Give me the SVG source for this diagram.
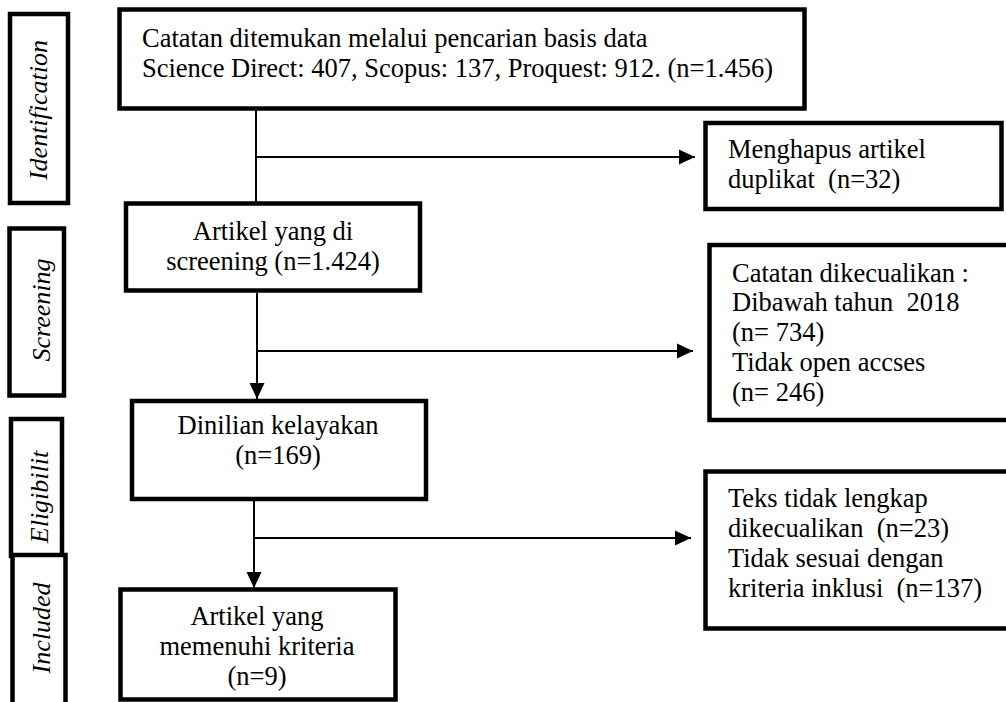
<svg xmlns="http://www.w3.org/2000/svg" width="1006" height="702" viewBox="0 0 1006 702">
<style>
.box{fill:#fff;stroke:#000;stroke-width:4.5}
.t{font-family:"Liberation Serif","Times New Roman",serif;font-size:26.5px;fill:#000}
.c{text-anchor:middle}
.lab{font-family:"Liberation Serif","Times New Roman",serif;font-size:26px;font-style:italic;fill:#000;text-anchor:middle}
.ln{fill:none;stroke:#000;stroke-width:2}
</style>
<defs>
<marker id="ah" markerUnits="userSpaceOnUse" markerWidth="16" markerHeight="16" viewBox="0 0 16 16" refX="16" refY="8" orient="auto">
<path d="M0,0.5 L16,8 L0,15.5 Z" fill="#000"/>
</marker>
</defs>
<rect width="1006" height="702" fill="#fff"/>
<g id="stage-identification">
<rect class="box" x="10" y="14" width="58" height="189"/>
<text class="lab" transform="translate(47,110) rotate(-90)">Identification</text>
</g>
<g id="stage-screening">
<rect class="box" x="9.5" y="228.5" width="54.5" height="167"/>
<text class="lab" transform="translate(50,310) rotate(-90)">Screening</text>
</g>
<g id="stage-eligibility">
<rect class="box" x="11" y="419" width="51" height="137"/>
<text class="lab" transform="translate(48,497) rotate(-90)">Eligibilit</text>
</g>
<g id="stage-included">
<rect class="box" x="12.5" y="555" width="53" height="160"/>
<text class="lab" transform="translate(50,628) rotate(-90)">Included</text>
</g>
<g id="connectors">
<line class="ln" x1="256" y1="110" x2="256" y2="202"/>
<line class="ln" x1="256" y1="157" x2="695" y2="157" marker-end="url(#ah)"/>
<line class="ln" x1="257" y1="293" x2="257" y2="399" marker-end="url(#ah)"/>
<line class="ln" x1="257" y1="351" x2="693" y2="351" marker-end="url(#ah)"/>
<line class="ln" x1="254" y1="501" x2="254" y2="588" marker-end="url(#ah)"/>
<line class="ln" x1="254" y1="538" x2="691" y2="538" marker-end="url(#ah)"/>
</g>
<g id="records">
<rect class="box" x="119.5" y="9.5" width="685" height="99"/>
<text class="t" x="142" y="47">Catatan ditemukan melalui pencarian basis data</text>
<text class="t" x="142" y="77">Science Direct: 407, Scopus: 137, Proquest: 912. (n=1.456)</text>
</g>
<g id="screened">
<rect class="box" x="126" y="203.5" width="294" height="87"/>
<text class="t c" x="273" y="240">Artikel yang di</text>
<text class="t c" x="273" y="270">screening (n=1.424)</text>
</g>
<g id="eligible">
<rect class="box" x="132" y="401" width="294" height="98"/>
<text class="t c" x="278" y="434">Dinilian kelayakan</text>
<text class="t c" x="278" y="464">(n=169)</text>
</g>
<g id="included">
<rect class="box" x="120.5" y="589.5" width="275" height="110"/>
<text class="t c" x="257" y="625">Artikel yang</text>
<text class="t c" x="257" y="655">memenuhi kriteria</text>
<text class="t c" x="257" y="685">(n=9)</text>
</g>
<g id="duplicates">
<rect class="box" x="705.5" y="123" width="296" height="86"/>
<text class="t" x="728" y="158">Menghapus artikel</text>
<text class="t" x="728" y="188" xml:space="preserve">duplikat  (n=32)</text>
</g>
<g id="excluded-screening">
<rect class="box" x="709.5" y="245" width="310" height="175"/>
<text class="t" x="732" y="282">Catatan dikecualikan :</text>
<text class="t" x="732" y="311" xml:space="preserve">Dibawah tahun  2018</text>
<text class="t" x="732" y="341">(n= 734)</text>
<text class="t" x="732" y="371">Tidak open accses</text>
<text class="t" x="732" y="401">(n= 246)</text>
</g>
<g id="excluded-eligibility">
<rect class="box" x="705.5" y="471.5" width="320" height="157"/>
<text class="t" x="728" y="507">Teks tidak lengkap</text>
<text class="t" x="728" y="537" xml:space="preserve">dikecualikan  (n=23)</text>
<text class="t" x="728" y="567">Tidak sesuai dengan</text>
<text class="t" x="728" y="597" xml:space="preserve">kriteria inklusi  (n=137)</text>
</g>
</svg>
